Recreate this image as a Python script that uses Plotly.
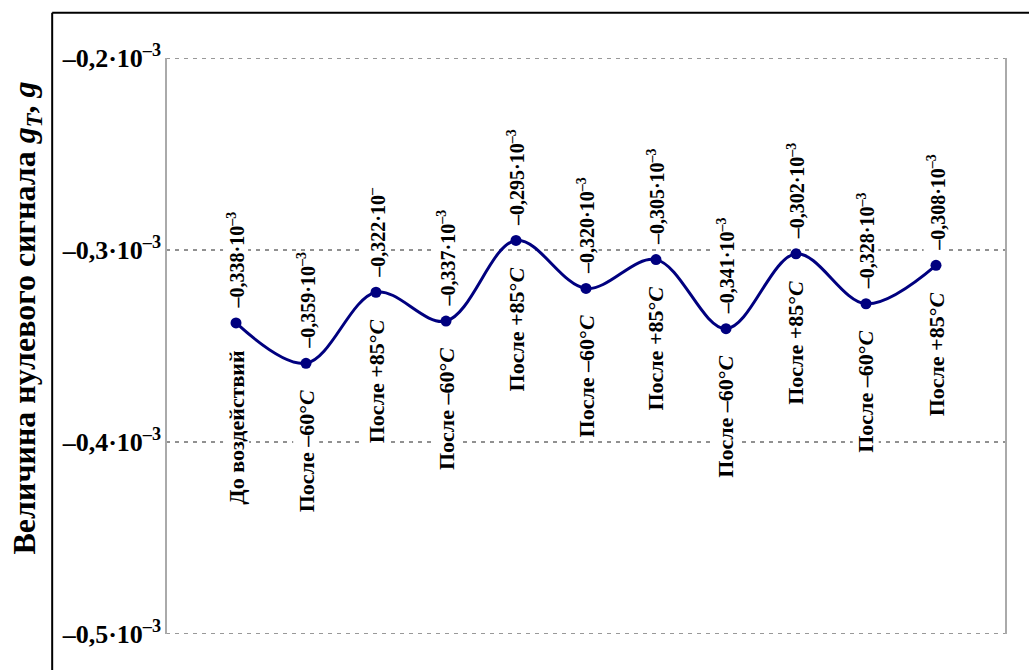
import plotly.graph_objects as go

# ---- data ----
categories = ["До воздействий", "После –60°<i>C</i>", "После +85°<i>C</i>", "После –60°<i>C</i>",
              "После +85°<i>C</i>", "После –60°<i>C</i>", "После +85°<i>C</i>", "После –60°<i>C</i>",
              "После +85°<i>C</i>", "После –60°<i>C</i>", "После +85°<i>C</i>"]
values_e3 = [-0.338, -0.359, -0.322, -0.337, -0.295, -0.320, -0.305, -0.341, -0.302, -0.328, -0.308]
value_labels = ["–0,338·10<sup>–3</sup>", "–0,359·10<sup>–3</sup>", "–0,322·10<sup>–</sup>",
                "–0,337·10<sup>–3</sup>", "–0,295·10<sup>–3</sup>", "–0,320·10<sup>–3</sup>",
                "–0,305·10<sup>–3</sup>", "–0,341·10<sup>–3</sup>", "–0,302·10<sup>–3</sup>",
                "–0,328·10<sup>–3</sup>", "–0,308·10<sup>–3</sup>"]
tick_vals_e3 = [-0.5, -0.4, -0.3, -0.2]
tick_texts = ["–0,5·10<sup>–3</sup>", "–0,4·10<sup>–3</sup>", "–0,3·10<sup>–3</sup>", "–0,2·10<sup>–3</sup>"]
y_title = "Величина нулевого сигнала <i>g<sub>T</sub></i>, <i>g</i>"

FONT = "Liberation Serif, Times New Roman, Times, serif"
NAVY = "#00007f"

x = list(range(len(values_e3)))
y = [v * 1e-3 for v in values_e3]
tick_vals = [v * 1e-3 for v in tick_vals_e3]

fig = go.Figure()
fig.add_trace(go.Scatter(
    x=x, y=y, mode="lines+markers",
    line=dict(color=NAVY, width=3, shape="spline", smoothing=1.0),
    marker=dict(color=NAVY, size=11),
    hoverinfo="skip", showlegend=False,
))

annotations = []
for xi, yi, lab, cat in zip(x, y, value_labels, categories):
    annotations.append(dict(
        x=xi, y=yi, xref="x", yref="y", text="<b>" + lab + "</b>", showarrow=False,
        textangle=-90, xanchor="center", yanchor="bottom", yshift=13,
        font=dict(family=FONT, size=20, color="black"), bgcolor="white", borderpad=0,
    ))
    annotations.append(dict(
        x=xi, y=yi, xref="x", yref="y", text="<b>" + cat + "</b>", showarrow=False,
        textangle=-90, xanchor="center", yanchor="top", yshift=-26,
        font=dict(family=FONT, size=22, color="black"), bgcolor="white", borderpad=0,
    ))

annotations.append(dict(
    x=-0.1665, y=0.548, xref="paper", yref="paper", text="<b>" + y_title + "</b>",
    showarrow=False, textangle=-90, xanchor="center", yanchor="middle",
    font=dict(family=FONT, size=32, color="black"),
))

shapes = []
# horizontal grid lines
for tv in tick_vals:
    edge = tv in (tick_vals[0], tick_vals[-1])
    shapes.append(dict(type="line", xref="paper", yref="y", x0=0, x1=1, y0=tv, y1=tv,
                       line=dict(color="#999999" if edge else "#222222",
                                 width=2 if edge else 1, dash="4px,5px"), layer="below"))
# plot area side borders
for px in (0, 1):
    shapes.append(dict(type="line", xref="paper", yref="paper", x0=px, x1=px, y0=0, y1=1,
                       line=dict(color="#aaaaaa", width=2), layer="below"))
# outer frame (left and top)
shapes.append(dict(type="line", xref="paper", yref="paper", x0=-0.1355, x1=-0.1355, y0=-0.2, y1=1.0785,
                   line=dict(color="black", width=2)))
shapes.append(dict(type="line", xref="paper", yref="paper", x0=-0.1355, x1=1.1, y0=1.0785, y1=1.0785,
                   line=dict(color="black", width=2)))

fig.update_layout(
    width=1029, height=670,
    margin=dict(l=166, r=23, t=58, b=36),
    paper_bgcolor="white", plot_bgcolor="white",
    font=dict(family=FONT),
    xaxis=dict(range=[-1, 11], visible=False, showgrid=False, zeroline=False),
    yaxis=dict(range=[-0.5e-3, -0.2e-3], tickvals=tick_vals,
               ticktext=["<b>" + t + "</b>" for t in tick_texts],
               tickfont=dict(family=FONT, size=26, color="black"),
               showgrid=False, zeroline=False, showline=False, ticks="", ticklabelstandoff=4),
    annotations=annotations, shapes=shapes,
)

fig.write_html("out.html")
